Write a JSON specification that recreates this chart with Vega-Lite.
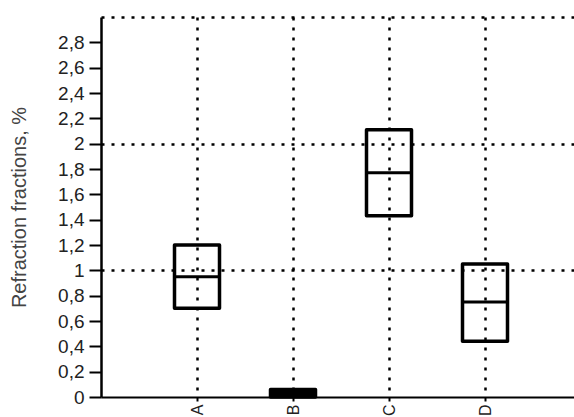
{
  "$schema": "https://vega.github.io/schema/vega-lite/v6.json",
  "autosize": "none",
  "padding": {"left": 101, "top": 17, "right": 0, "bottom": 20},
  "width": 480,
  "height": 380,
  "background": "white",
  "config": {
    "font": "Liberation Sans",
    "view": {"stroke": null}
  },
  "data": {
    "values": [
      {"cat": "A", "lower": 0.70, "median": 0.95, "upper": 1.20},
      {"cat": "B", "lower": 0.0, "median": 0.03, "upper": 0.06},
      {"cat": "C", "lower": 1.43, "median": 1.77, "upper": 2.11},
      {"cat": "D", "lower": 0.44, "median": 0.75, "upper": 1.05}
    ]
  },
  "encoding": {
    "x": {
      "field": "cat",
      "type": "nominal",
      "scale": {"type": "point", "padding": 1},
      "axis": {
        "title": null,
        "labelAngle": 270,
        "labelFontSize": 16,
        "labelColor": "#222",
        "labelPadding": 3,
        "tickSize": 4,
        "tickWidth": 2,
        "tickColor": "black",
        "domainColor": "black",
        "domainWidth": 2,
        "grid": true,
        "gridColor": "black",
        "gridWidth": 2.5,
        "gridDash": [3, 7],
        "gridOpacity": 1
      }
    }
  },
  "layer": [
    {
      "mark": {"type": "bar", "stroke": "black", "strokeWidth": 3.5, "size": 45, "strokeJoin": "round"},
      "encoding": {
        "fill": {"condition": {"test": "datum.upper < 0.1", "value": "black"}, "value": "transparent"},
        "y": {
          "field": "upper",
          "type": "quantitative",
          "scale": {"domain": [0, 3], "nice": false},
          "title": "Refraction fractions, %",
          "axis": {
            "values": [0, 0.2, 0.4, 0.6, 0.8, 1, 1.2, 1.4, 1.6, 1.8, 2, 2.2, 2.4, 2.6, 2.8, 3],
            "tickCount": 30,
            "labelExpr": "datum.value >= 2.9 ? '' : replace(format(datum.value, '~g'), '.', ',')",
            "labelFontSize": 19,
            "labelColor": "#222",
            "labelPadding": 5,
            "labelFlush": false,
            "labelOverlap": false,
            "labelBound": false,
            "tickSize": 12,
            "tickWidth": 2,
            "tickColor": "black",
            "tickOpacity": {"condition": {"test": "datum.value >= 2.9", "value": 0}, "value": 1},
            "domainColor": "black",
            "domainWidth": 2.5,
            "grid": true,
            "gridColor": "black",
            "gridWidth": 2.5,
            "gridDash": [3, 7],
            "gridOpacity": {"condition": {"test": "datum.value == 1 || datum.value == 2 || datum.value == 3", "value": 1}, "value": 0},
            "titleFontSize": 20,
            "titleFontWeight": "normal",
            "titleColor": "#444",
            "titlePadding": 28
          }
        },
        "y2": {"field": "lower"}
      }
    },
    {
      "mark": {"type": "tick", "color": "black", "size": 45, "thickness": 3, "opacity": 1},
      "encoding": {
        "y": {"field": "median", "type": "quantitative"}
      }
    }
  ]
}
